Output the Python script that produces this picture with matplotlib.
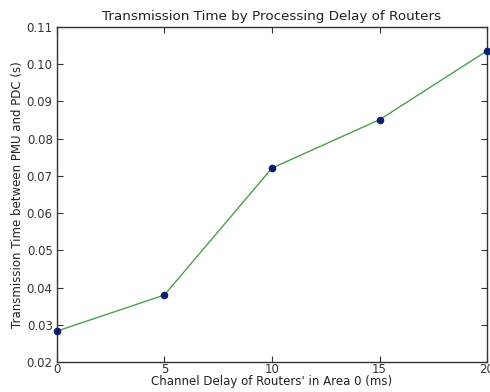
import matplotlib
matplotlib.use("Agg")
import matplotlib.pyplot as plt

delay_ms = [0, 5, 10, 15, 20]
trans_time = [0.0283, 0.038, 0.0721, 0.0851, 0.1036]


def main():
    fig = plt.figure(figsize=(4.9, 3.92), dpi=100, facecolor="white")
    ax = fig.add_axes([0.116, 0.0765, 0.878, 0.8545])

    ax.plot(delay_ms, trans_time, color="#4b9f4b", linewidth=1.0, zorder=2)
    ax.plot(delay_ms, trans_time, "o", color="#0c1f6e", markersize=4.5,
            markeredgecolor="#0c1f6e", zorder=3, clip_on=False)

    ax.set_xlim(0, 20)
    ax.set_ylim(0.02, 0.11)
    ax.set_xticks([0, 5, 10, 15, 20])
    ax.set_yticks([0.02, 0.03, 0.04, 0.05, 0.06, 0.07, 0.08, 0.09, 0.10, 0.11])
    ax.set_yticklabels(["0.02", "0.03", "0.04", "0.05", "0.06", "0.07",
                        "0.08", "0.09", "0.10", "0.11"])

    ax.tick_params(direction="in", top=True, right=True, length=4,
                   labelsize=8.5, colors="#333333")
    ax.tick_params(axis="x", pad=1)
    ax.tick_params(axis="y", pad=3)
    for s in ax.spines.values():
        s.set_color("#333333")
        s.set_linewidth(1.0)

    ax.set_title("Transmission Time by Processing Delay of Routers",
                 fontsize=9.7, color="#222222", pad=5)
    ax.set_xlabel("Channel Delay of Routers' in Area 0 (ms)", fontsize=8.5,
                  color="#222222", labelpad=-1)
    ax.set_ylabel("Transmission Time between PMU and PDC (s)", fontsize=8.5,
                  color="#222222", labelpad=2)

    fig.savefig("out.png", dpi=100, facecolor="white")


if __name__ == "__main__":
    main()
